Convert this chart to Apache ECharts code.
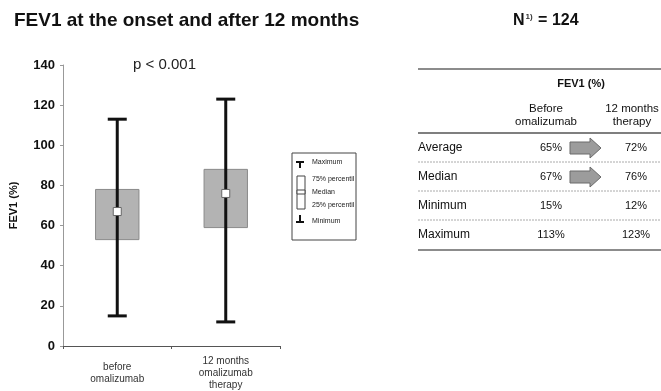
<!DOCTYPE html>
<html>
<head>
<meta charset="utf-8">
<script src="https://cdn.jsdelivr.net/npm/echarts@6/dist/echarts.min.js"></script>
<style>html,body{margin:0;padding:0;background:#fff}#c{width:661px;height:391px}</style>
</head>
<body>
<div id="c"></div>
<script>
// ---- data ----
const categories = ['before\nomalizumab', '12 months\nomalizumab\ntherapy'];
const minVals = [15, 12];
const q1Vals = [53, 59];
const medianVals = [67, 76];
const q3Vals = [78, 88];
const maxVals = [113, 123];
const yMin = 0, yMax = 140, yInterval = 20;

const tableRows = ['Average', 'Median', 'Minimum', 'Maximum'];
const tableBefore = ['65%', '67%', '15%', '113%'];
const tableAfter = ['72%', '76%', '12%', '123%'];
const tableArrowRows = [true, true, false, false];
const legendItems = ['Maximum', '75% percentil', 'Median', '25% percentil', 'Minimum'];

const FONT = "'Liberation Sans', Arial, sans-serif";
const chart = echarts.init(document.getElementById('c'));

const boxData = categories.map((c, i) => [i, minVals[i], q1Vals[i], medianVals[i], q3Vals[i], maxVals[i]]);

// ---- graphic (titles, legend box, table) ----
const g = [];
function txt(text, x, y, font, opts) {
  g.push(Object.assign({type: 'text', style: Object.assign({text, x, y, font, fill: '#111', textAlign: 'left', textVerticalAlign: 'middle'}, opts || {})}));
}
function line(x1, y1, x2, y2, stroke, w, dash) {
  g.push({type: 'line', shape: {x1, y1, x2, y2}, style: {stroke, lineWidth: w, lineDash: dash || null}});
}
txt('FEV1 at the onset and after 12 months', 14, 21, 'bold 19px ' + FONT);
g.push({type: 'text', style: {
  text: '{n|N}{s|1)}{n| = 124}', x: 513, y: 21, textVerticalAlign: 'middle',
  rich: {n: {font: 'bold 16px ' + FONT, fill: '#111'}, s: {font: 'bold 8px ' + FONT, fill: '#333', verticalAlign: 'top', padding: [0, 1, 8, 1]}}
}});
txt('p < 0.001', 133, 65, '15px ' + FONT, {fill: '#222'});

// legend box
g.push({type: 'rect', shape: {x: 292, y: 153, width: 64, height: 87}, style: {fill: '#fff', stroke: '#444', lineWidth: 1}});
line(296, 162, 304, 162, '#111', 2); line(300, 162, 300, 168, '#111', 2);
g.push({type: 'rect', shape: {x: 297, y: 176, width: 8, height: 33}, style: {fill: '#fff', stroke: '#444', lineWidth: 1}});
g.push({type: 'rect', shape: {x: 297, y: 190, width: 8, height: 4}, style: {fill: '#fff', stroke: '#444', lineWidth: 1}});
line(300, 215, 300, 222, '#111', 2); line(296, 222, 304, 222, '#111', 2);
const legY = [162, 179, 192, 205, 221];
legendItems.forEach((t, i) => txt(t, 312, legY[i], '7px ' + FONT, {fill: '#222'}));

// table
const tL = 418, tR = 661, c1 = 546, c2 = 632;
line(tL, 69, tR, 69, '#666', 1.5);
txt('FEV1 (%)', 581, 84, 'bold 11px ' + FONT, {textAlign: 'center'});
txt('Before\nomalizumab', c1, 115, '11.5px ' + FONT, {textAlign: 'center', lineHeight: 13});
txt('12 months\ntherapy', c2, 115, '11.5px ' + FONT, {textAlign: 'center', lineHeight: 13});
line(tL, 133, tR, 133, '#555', 1.5);
tableRows.forEach((r, i) => {
  const y = 148 + i * 29;
  txt(r, tL, y, '12px ' + FONT);
  txt(tableBefore[i], c1 + 5, y, '11px ' + FONT, {textAlign: 'center'});
  txt(tableAfter[i], c2 + 4, y, '11px ' + FONT, {textAlign: 'center'});
  if (tableArrowRows[i]) {
    g.push({type: 'polygon', shape: {points: [[570, y - 6], [590, y - 6], [590, y - 10], [601, y], [590, y + 10], [590, y + 6], [570, y + 6]]},
      style: {fill: '#9c9c9c', stroke: '#6a6a6a', lineWidth: 1}});
  }
  if (i < tableRows.length - 1) line(tL, y + 14, tR, y + 14, '#aaa', 1, [2, 1]);
});
line(tL, 250, tR, 250, '#666', 1.5);

chart.setOption({
  animation: false,
  backgroundColor: '#fff',
  grid: {left: 63, right: 381, top: 65, bottom: 45, containLabel: false},
  xAxis: {
    type: 'category', data: categories,
    axisLine: {lineStyle: {color: '#555', width: 1}},
    axisTick: {show: true, alignWithLabel: false, length: 3, lineStyle: {color: '#555'}},
    axisLabel: {fontFamily: FONT, fontSize: 10, color: '#333', lineHeight: 12, margin: 27, verticalAlign: 'middle', interval: 0}
  },
  yAxis: {
    type: 'value', min: yMin, max: yMax, interval: yInterval,
    name: 'FEV1 (%)', nameLocation: 'middle', nameGap: 44,
    nameTextStyle: {fontFamily: FONT, fontSize: 11, fontWeight: 'bold', color: '#111'},
    axisLine: {show: true, lineStyle: {color: '#999', width: 1}},
    axisTick: {show: true, length: 3, lineStyle: {color: '#999'}},
    axisLabel: {fontFamily: FONT, fontSize: 13, fontWeight: 'bold', color: '#111', margin: 8},
    splitLine: {show: false}
  },
  series: [{
    type: 'custom',
    data: boxData,
    encode: {x: 0, y: [1, 2, 3, 4, 5]},
    renderItem: function (params, api) {
      const x = api.value(0);
      const lo = api.coord([x, api.value(1)]);
      const q1 = api.coord([x, api.value(2)]);
      const med = api.coord([x, api.value(3)]);
      const q3 = api.coord([x, api.value(4)]);
      const hi = api.coord([x, api.value(5)]);
      const bw = api.size([1, 0])[0] * 0.4;
      const cw = 19;
      return {type: 'group', children: [
        {type: 'rect', shape: {x: q3[0] - bw / 2, y: q3[1], width: bw, height: q1[1] - q3[1]}, style: {fill: '#b3b3b3', stroke: '#8a8a8a', lineWidth: 1}},
        {type: 'line', shape: {x1: lo[0], y1: lo[1], x2: hi[0], y2: hi[1]}, style: {stroke: '#111', lineWidth: 3}},
        {type: 'line', shape: {x1: hi[0] - cw / 2, y1: hi[1], x2: hi[0] + cw / 2, y2: hi[1]}, style: {stroke: '#111', lineWidth: 3}},
        {type: 'line', shape: {x1: lo[0] - cw / 2, y1: lo[1], x2: lo[0] + cw / 2, y2: lo[1]}, style: {stroke: '#111', lineWidth: 3}},
        {type: 'rect', shape: {x: med[0] - 4, y: med[1] - 4, width: 8, height: 8}, style: {fill: '#fff', stroke: '#666', lineWidth: 1}}
      ]};
    }
  }],
  graphic: g
});
</script>
</body>
</html>
